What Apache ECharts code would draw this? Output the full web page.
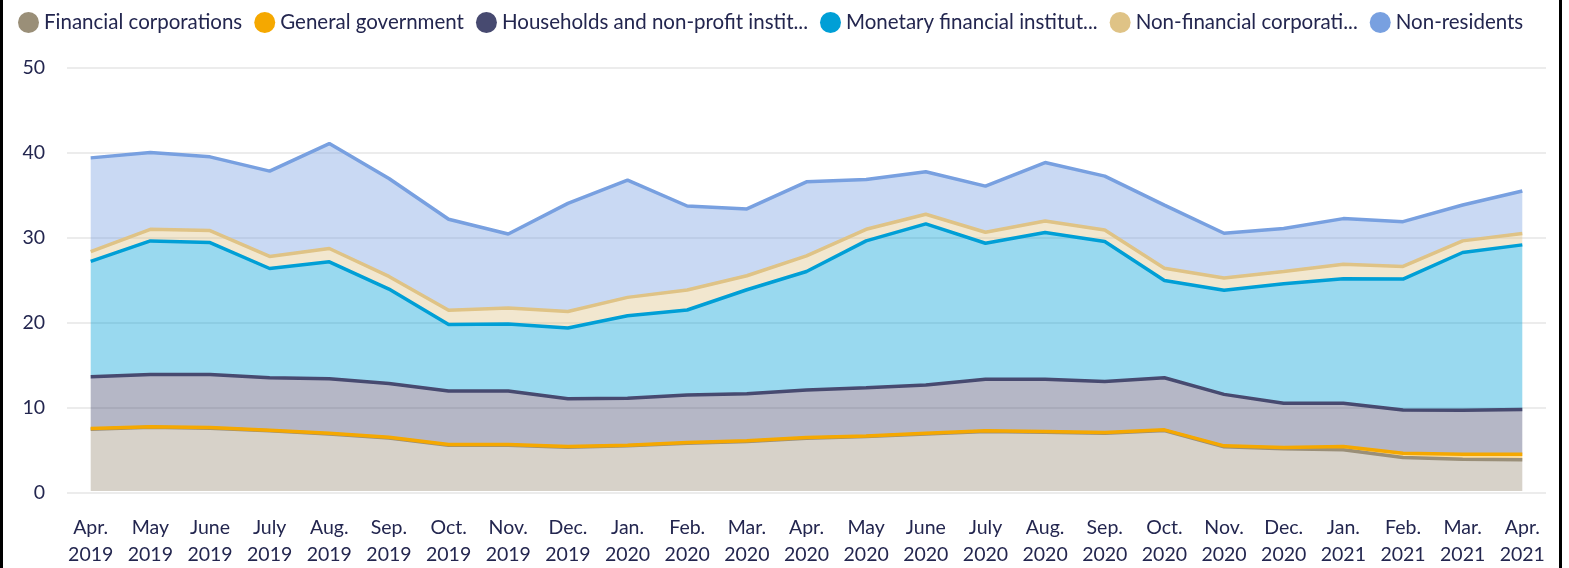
<!DOCTYPE html>
<html>
<head>
<meta charset="utf-8">
<script src="https://cdn.jsdelivr.net/npm/echarts@6/dist/echarts.min.js"></script>
<style>
  html, body { margin: 0; padding: 0; background: #fff; overflow: hidden; }
  #frame { position: absolute; left: 0; top: -10px; width: 1556px; height: 600px;
           border-left: 3px solid #000; border-right: 3px solid #000; }
  #chart { position: absolute; left: 0; top: 0; width: 1569px; height: 568px; }
</style>
</head>
<body>
<div id="frame"></div>
<div id="chart"></div>
<script>
// Month labels (two lines each)
const months = [
  'Apr.\n2019', 'May\n2019', 'June\n2019', 'July\n2019', 'Aug.\n2019', 'Sep.\n2019',
  'Oct.\n2019', 'Nov.\n2019', 'Dec.\n2019', 'Jan.\n2020', 'Feb.\n2020', 'Mar.\n2020',
  'Apr.\n2020', 'May\n2020', 'June\n2020', 'July\n2020', 'Aug.\n2020', 'Sep.\n2020',
  'Oct.\n2020', 'Nov.\n2020', 'Dec.\n2020', 'Jan.\n2021', 'Feb.\n2021', 'Mar.\n2021',
  'Apr.\n2021'
];

// Sector names and the shortened labels shown in the legend
const sectorNames = [
  'Financial corporations',
  'General government',
  'Households and non-profit institutions serving households',
  'Monetary financial institutions',
  'Non-financial corporations',
  'Non-residents'
];
const legendLabels = [
  'Financial corporations',
  'General government',
  'Households and non-profit instit...',
  'Monetary financial institut...',
  'Non-financial corporati...',
  'Non-residents'
];

// Holdings by sector (stacked)
const financialCorporations = [7.29, 7.52, 7.41, 7.10, 6.74, 6.27, 5.41, 5.41, 5.17, 5.33, 5.65, 5.84, 6.23, 6.42, 6.74, 7.02, 6.94, 6.82, 7.14, 5.23, 5.00, 4.86, 3.96, 3.76, 3.69];
const generalGovernment     = [0.08, 0.08, 0.08, 0.08, 0.08, 0.08, 0.08, 0.08, 0.08, 0.08, 0.08, 0.08, 0.08, 0.08, 0.08, 0.08, 0.08, 0.08, 0.08, 0.10, 0.14, 0.39, 0.51, 0.59, 0.66];
const households            = [6.12, 6.16, 6.27, 6.19, 6.43, 6.35, 6.31, 6.31, 5.65, 5.53, 5.60, 5.57, 5.61, 5.70, 5.69, 6.08, 6.16, 6.04, 6.15, 6.08, 5.21, 5.10, 5.10, 5.18, 5.26];
const monetaryInstitutions  = [13.61, 15.77, 15.57, 12.90, 13.81, 11.14, 7.85, 7.93, 8.35, 9.76, 10.04, 12.27, 14.00, 17.33, 19.02, 16.07, 17.33, 16.51, 11.49, 12.28, 14.12, 14.71, 15.45, 18.63, 19.45];
const nonFinancialCorps     = [1.17, 1.37, 1.42, 1.42, 1.57, 1.49, 1.68, 1.87, 1.95, 2.16, 2.36, 1.65, 1.84, 1.37, 1.14, 1.30, 1.37, 1.37, 1.45, 1.45, 1.45, 1.72, 1.49, 1.37, 1.33];
const nonResidents          = [11.06, 9.06, 8.70, 10.07, 12.39, 11.57, 10.75, 8.75, 12.76, 13.84, 9.92, 7.89, 8.74, 5.88, 5.02, 5.45, 6.90, 6.36, 7.45, 5.29, 5.06, 5.38, 5.29, 4.23, 5.02];

const seriesValues = [financialCorporations, generalGovernment, households, monetaryInstitutions, nonFinancialCorps, nonResidents];
const colors = ['#9a8f78', '#f5a800', '#474a70', '#009fd6', '#dfc386', '#78a0e0'];

const yTicks = { min: 0, max: 50, interval: 10 };

const textColor = '#23264f';
const fontFamily = 'Lato, "Noto Sans", sans-serif';

const chart = echarts.init(document.getElementById('chart'), null, { renderer: 'canvas' });

const series = seriesValues.map((vals, i) => ({
  name: sectorNames[i],
  type: 'line',
  xAxisIndex: 1,
  yAxisIndex: 1,
  stack: 'total',
  data: vals,
  symbol: 'none',
  showSymbol: false,
  smooth: false,
  color: colors[i],
  itemStyle: { color: colors[i] },
  lineStyle: { color: colors[i], width: 3.5 },
  areaStyle: { color: colors[i], opacity: 0.4 },
  emphasis: { disabled: true }
}));

chart.setOption({
  animation: false,
  backgroundColor: 'transparent',
  textStyle: { fontFamily: fontFamily },
  legend: {
    top: 7,
    left: 13,
    icon: 'circle',
    itemWidth: 21,
    itemHeight: 21,
    itemGap: 12,
    data: sectorNames,
    formatter: name => legendLabels[sectorNames.indexOf(name)],
    textStyle: { color: textColor, fontSize: 20.5, fontFamily: fontFamily }
  },
  grid: [
    { left: 67, right: 23, top: 67.5, bottom: 75.7 },
    { left: 90.7, right: 46.7, top: 67.5, bottom: 75.7 }
  ],
  xAxis: [
    { gridIndex: 0, type: 'value', min: 0, max: 1, show: false },
    {
      gridIndex: 1,
      type: 'category',
      data: months,
      boundaryGap: false,
      axisLine: { show: false },
      axisTick: { show: false },
      splitLine: { show: false },
      axisLabel: {
        interval: 0,
        margin: 23,
        color: textColor,
        fontSize: 19.5,
        lineHeight: 27,
        fontFamily: fontFamily
      }
    }
  ],
  yAxis: [
    {
      gridIndex: 0,
      type: 'value',
      min: yTicks.min,
      max: yTicks.max,
      interval: yTicks.interval,
      axisLine: { show: false },
      axisTick: { show: false },
      axisLabel: { color: textColor, fontSize: 19.5, margin: 22, fontFamily: fontFamily },
      splitLine: { lineStyle: { color: '#ececec', width: 2 } }
    },
    {
      gridIndex: 1,
      type: 'value',
      min: yTicks.min,
      max: yTicks.max,
      interval: yTicks.interval,
      show: false,
      splitLine: { show: false }
    }
  ],
  series: series
});
</script>
</body>
</html>
